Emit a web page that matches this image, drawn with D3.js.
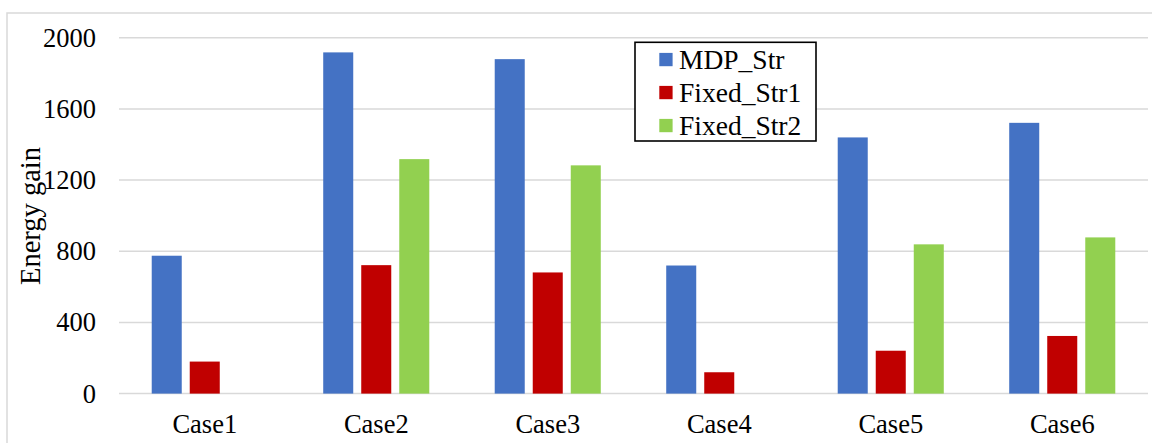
<!DOCTYPE html>
<html>
<head>
<meta charset="utf-8">
<script src="https://cdn.jsdelivr.net/npm/d3@7"></script>
<style>
  html, body { margin: 0; padding: 0; background: #fff; }
  svg { display: block; }
  text { font-family: "Liberation Serif", "Times New Roman", serif; fill: #000; }
</style>
</head>
<body>
<svg id="chart" width="1152" height="443"></svg>
<script>
// Energy gain per case for each strategy
const categories = ["Case1", "Case2", "Case3", "Case4", "Case5", "Case6"];
const seriesNames = ["MDP_Str", "Fixed_Str1", "Fixed_Str2"];
const mdpStr    = [775, 1918, 1880, 720, 1440, 1522];
const fixedStr1 = [180, 722, 681, 120, 241, 324];
const fixedStr2 = [0, 1318, 1283, 0, 839, 878];
const seriesColors = ["#4472C4", "#C00000", "#92D050"];
const yTicks = [0, 400, 800, 1200, 1600, 2000];
const yTitle = "Energy gain";

const seriesValues = [mdpStr, fixedStr1, fixedStr2];

const svg = d3.select("#chart");
const W = 1152, H = 443;
const plot = { left: 119, right: 1148, top: 37.8, bottom: 393.6 };

// outer chart frame
svg.append("rect")
  .attr("x", 7).attr("y", 13)
  .attr("width", W + 20).attr("height", H + 20)
  .attr("fill", "#fff")
  .attr("stroke", "#d9d9d9").attr("stroke-width", 1.5);

const x0 = d3.scaleBand().domain(categories).range([plot.left, plot.right]).padding(0);
const groupW = x0.bandwidth() * 0.665;
const x1 = d3.scaleBand().domain(seriesNames).range([0, groupW])
  .paddingInner(0.2105).paddingOuter(0.105);
const y = d3.scaleLinear().domain([0, 2000]).range([plot.bottom, plot.top]);

// horizontal gridlines
svg.append("g").selectAll("line").data(yTicks).join("line")
  .attr("x1", plot.left).attr("x2", plot.right)
  .attr("y1", d => y(d)).attr("y2", d => y(d))
  .attr("stroke", "#d9d9d9").attr("stroke-width", 1.5);

// y tick labels
const yAxis = d3.axisLeft(y).tickValues(yTicks).tickSize(0).tickPadding(0).tickFormat(d3.format("d"));
const gy = svg.append("g").attr("transform", `translate(96,0)`).call(yAxis);
gy.select(".domain").remove();
gy.selectAll("text")
  .attr("font-family", '"Liberation Serif", "Times New Roman", serif')
  .attr("font-size", 26.5).attr("fill", "#000");

// category labels
const xAxis = d3.axisBottom(x0).tickSize(0).tickPadding(0);
const gx = svg.append("g").attr("transform", `translate(0,${plot.bottom})`).call(xAxis);
gx.select(".domain").remove();
gx.selectAll("text")
  .attr("font-family", '"Liberation Serif", "Times New Roman", serif')
  .attr("font-size", 26.5).attr("fill", "#000")
  .attr("dy", null).attr("y", 39.5);

// bars
const groups = svg.append("g").selectAll("g").data(categories).join("g")
  .attr("transform", c => `translate(${x0(c) + x0.bandwidth() / 2 - groupW / 2},0)`);
groups.selectAll("rect")
  .data((c, i) => seriesNames.map((s, k) => ({ s, k, v: seriesValues[k][i] })))
  .join("rect")
  .filter(d => d.v > 0)
  .attr("x", d => x1(d.s))
  .attr("width", x1.bandwidth())
  .attr("y", d => y(d.v))
  .attr("height", d => y(0) - y(d.v))
  .attr("fill", d => seriesColors[d.k]);

// y axis title
svg.append("text")
  .attr("transform", "translate(39.5,216) rotate(-90)")
  .attr("text-anchor", "middle")
  .attr("font-size", 28.5)
  .text(yTitle);

// legend
const lg = svg.append("g");
lg.append("rect")
  .attr("x", 635).attr("y", 42.3).attr("width", 181).attr("height", 98.7)
  .attr("fill", "#fff").attr("stroke", "#000").attr("stroke-width", 1.6);
const rows = lg.selectAll("g.row").data(seriesNames).join("g")
  .attr("class", "row")
  .attr("transform", (d, i) => `translate(0,${59.5 + i * 33})`);
rows.append("rect")
  .attr("x", 659.3).attr("y", -6.6).attr("width", 13.3).attr("height", 13.3)
  .attr("fill", (d, i) => seriesColors[i]);
rows.append("text")
  .attr("x", 679).attr("y", 0).attr("dy", "0.35em")
  .attr("font-size", 27.5)
  .text(d => d);
</script>
</body>
</html>
